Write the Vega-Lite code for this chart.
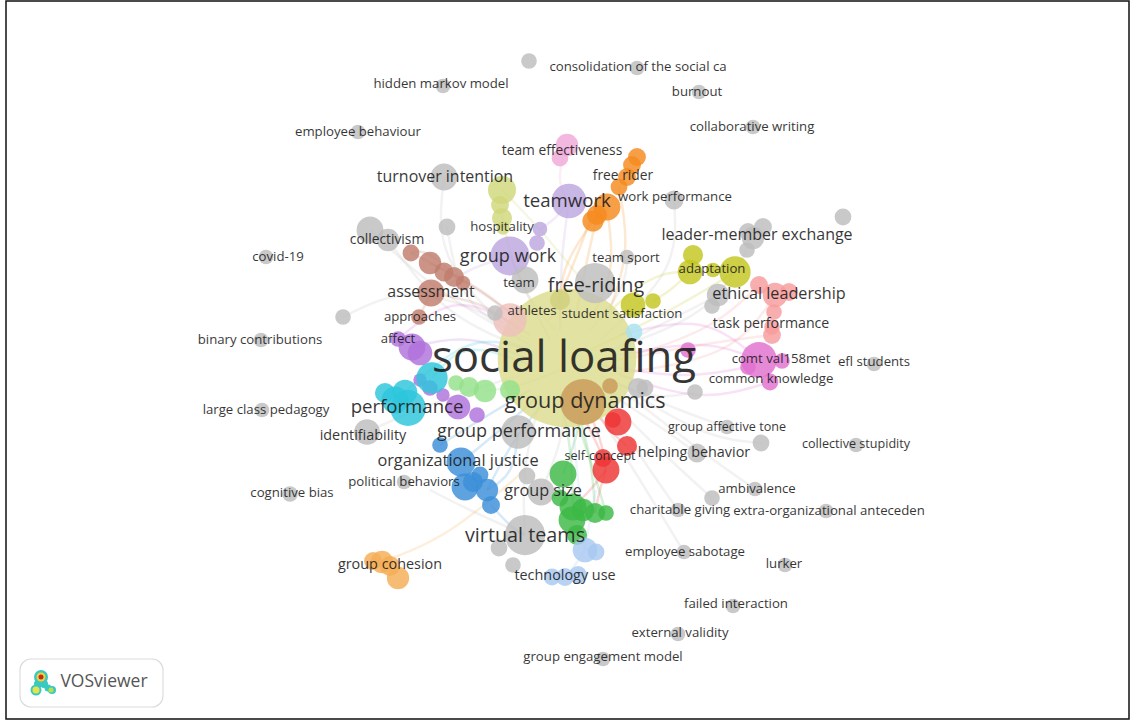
{
"$schema":"https://vega.github.io/schema/vega-lite/v6.json",
"width":1131,"height":720,"padding":0,"autosize":{"type":"none"},"background":"white",
"config":{"view":{"stroke":null}},
"resolve":{"scale":{"x":"shared","y":"shared","color":"independent","size":"independent"}},
"datasets":{
"nodes":[
{"x":567,"y":358,"w":124,"c":"hub"},{"x":510,"y":320,"w":30,"c":"rose"},{"x":560,"y":300,"w":18,"c":"hub2"},{"x":610,"y":386,"w":14,"c":"tan"},
{"x":583,"y":402,"w":41,"c":"tan"},
{"x":567,"y":145,"w":20,"c":"pink"},{"x":560,"y":158,"w":15,"c":"pink"},
{"x":637,"y":157,"w":16,"c":"orange"},{"x":632,"y":165,"w":16,"c":"orange"},{"x":627,"y":177,"w":16,"c":"orange"},{"x":619,"y":187,"w":15,"c":"orange"},{"x":607,"y":207,"w":24,"c":"orange"},{"x":597,"y":215,"w":18,"c":"orange"},{"x":593,"y":221,"w":19,"c":"orange"},
{"x":444,"y":177,"w":24,"c":"gray"},
{"x":502,"y":190,"w":25,"c":"khaki"},{"x":500,"y":205,"w":16,"c":"khaki"},{"x":502,"y":218,"w":18,"c":"khaki"},{"x":503,"y":228,"w":12,"c":"khaki"},
{"x":569,"y":201,"w":31,"c":"lilac"},{"x":540,"y":229,"w":13,"c":"lilac"},{"x":537,"y":243,"w":14,"c":"lilac"},{"x":510,"y":256,"w":35,"c":"lilac"},
{"x":447,"y":227,"w":15,"c":"gray"},{"x":370,"y":230,"w":24,"c":"gray"},{"x":388,"y":240,"w":20,"c":"gray"},
{"x":411,"y":253,"w":15,"c":"brown"},{"x":430,"y":263,"w":20,"c":"brown"},{"x":444,"y":272,"w":17,"c":"brown"},{"x":454,"y":277,"w":18,"c":"brown"},{"x":463,"y":283,"w":13,"c":"brown"},{"x":431,"y":293,"w":24,"c":"brown"},{"x":419,"y":317,"w":14,"c":"brown"},
{"x":525,"y":280,"w":24,"c":"gray"},{"x":595,"y":283,"w":36,"c":"gray"},{"x":627,"y":257,"w":13,"c":"gray"},{"x":674,"y":200,"w":17,"c":"gray"},{"x":343,"y":317,"w":14,"c":"gray"},{"x":495,"y":313,"w":14,"c":"gray"},
{"x":633,"y":305,"w":22,"c":"olive"},{"x":653,"y":301,"w":14,"c":"olive"},{"x":634,"y":332,"w":15,"c":"sky"},
{"x":398,"y":339,"w":14,"c":"purple"},{"x":412,"y":347,"w":24,"c":"purple"},{"x":420,"y":353,"w":22,"c":"purple"},
{"x":420,"y":380,"w":12,"c":"purple"},{"x":430,"y":388,"w":14,"c":"purple"},{"x":443,"y":395,"w":12,"c":"purple"},{"x":458,"y":407,"w":22,"c":"purple"},{"x":477,"y":415,"w":14,"c":"purple"},
{"x":432,"y":378,"w":28,"c":"cyan"},{"x":385,"y":393,"w":18,"c":"cyan"},{"x":405,"y":392,"w":22,"c":"cyan"},{"x":395,"y":400,"w":24,"c":"cyan"},{"x":408,"y":408,"w":32,"c":"cyan"},
{"x":456,"y":383,"w":14,"c":"lgreen"},{"x":469,"y":387,"w":18,"c":"lgreen"},{"x":485,"y":391,"w":20,"c":"lgreen"},{"x":510,"y":390,"w":18,"c":"lgreen"},
{"x":638,"y":388,"w":18,"c":"gray"},{"x":645,"y":388,"w":15,"c":"gray"},{"x":695,"y":392,"w":14,"c":"gray"},{"x":367,"y":432,"w":23,"c":"gray"},{"x":518,"y":432,"w":30,"c":"gray"},{"x":527,"y":476,"w":15,"c":"gray"},{"x":541,"y":492,"w":24,"c":"gray"},{"x":525,"y":535,"w":36,"c":"gray"},{"x":499,"y":548,"w":15,"c":"gray"},{"x":513,"y":565,"w":14,"c":"gray"},{"x":404,"y":482,"w":13,"c":"gray"},
{"x":440,"y":445,"w":14,"c":"blue"},{"x":461,"y":462,"w":26,"c":"blue"},{"x":480,"y":475,"w":15,"c":"blue"},{"x":465,"y":487,"w":24,"c":"blue"},{"x":473,"y":482,"w":18,"c":"blue"},{"x":487,"y":490,"w":20,"c":"blue"},{"x":491,"y":505,"w":16,"c":"blue"},
{"x":618,"y":422,"w":24,"c":"red"},{"x":613,"y":420,"w":14,"c":"red"},{"x":627,"y":446,"w":18,"c":"red"},{"x":603,"y":458,"w":16,"c":"red"},{"x":606,"y":470,"w":24,"c":"red"},
{"x":563,"y":474,"w":24,"c":"green"},{"x":560,"y":498,"w":15,"c":"green"},{"x":573,"y":507,"w":24,"c":"green"},{"x":583,"y":510,"w":20,"c":"green"},{"x":572,"y":520,"w":24,"c":"green"},{"x":595,"y":513,"w":18,"c":"green"},{"x":606,"y":513,"w":14,"c":"green"},{"x":577,"y":535,"w":18,"c":"green"},
{"x":585,"y":550,"w":22,"c":"lblue"},{"x":596,"y":552,"w":15,"c":"lblue"},{"x":552,"y":577,"w":15,"c":"lblue"},{"x":565,"y":577,"w":16,"c":"lblue"},{"x":578,"y":575,"w":16,"c":"lblue"},
{"x":373,"y":561,"w":16,"c":"sand"},{"x":382,"y":562,"w":20,"c":"sand"},{"x":390,"y":566,"w":18,"c":"sand"},{"x":398,"y":578,"w":20,"c":"sand"},
{"x":843,"y":217,"w":15,"c":"gray"},{"x":747,"y":250,"w":14,"c":"gray"},{"x":753,"y":238,"w":20,"c":"gray"},{"x":748,"y":232,"w":16,"c":"gray"},{"x":763,"y":227,"w":16,"c":"gray"},
{"x":693,"y":255,"w":18,"c":"olive"},{"x":690,"y":272,"w":22,"c":"olive"},{"x":713,"y":270,"w":13,"c":"olive"},{"x":735,"y":272,"w":28,"c":"olive"},
{"x":718,"y":295,"w":20,"c":"gray"},{"x":712,"y":306,"w":14,"c":"gray"},
{"x":759,"y":285,"w":16,"c":"salmon"},{"x":775,"y":295,"w":22,"c":"salmon"},{"x":789,"y":292,"w":16,"c":"salmon"},{"x":774,"y":312,"w":14,"c":"salmon"},{"x":772,"y":327,"w":14,"c":"salmon"},{"x":772,"y":335,"w":16,"c":"salmon"},
{"x":759,"y":360,"w":32,"c":"magenta"},{"x":748,"y":367,"w":14,"c":"magenta"},{"x":770,"y":382,"w":15,"c":"magenta"},{"x":782,"y":361,"w":14,"c":"magenta"},{"x":688,"y":350,"w":14,"c":"magenta"},
{"x":727,"y":427,"w":13,"c":"gray"},{"x":529,"y":61,"w":14,"c":"gray"},{"x":637,"y":68,"w":13,"c":"gray"},{"x":443,"y":86,"w":13,"c":"gray"},{"x":699,"y":92,"w":13,"c":"gray"},{"x":753,"y":127,"w":13,"c":"gray"},{"x":358,"y":132,"w":13,"c":"gray"},{"x":266,"y":257,"w":13,"c":"gray"},{"x":261,"y":340,"w":13,"c":"gray"},{"x":874,"y":364,"w":13,"c":"gray"},{"x":262,"y":410,"w":13,"c":"gray"},{"x":856,"y":445,"w":13,"c":"gray"},{"x":761,"y":443,"w":15,"c":"gray"},{"x":697,"y":453,"w":17,"c":"gray"},{"x":290,"y":494,"w":14,"c":"gray"},{"x":755,"y":489,"w":13,"c":"gray"},{"x":712,"y":498,"w":14,"c":"gray"},{"x":678,"y":510,"w":13,"c":"gray"},{"x":826,"y":511,"w":13,"c":"gray"},{"x":684,"y":552,"w":13,"c":"gray"},{"x":785,"y":565,"w":13,"c":"gray"},{"x":733,"y":606,"w":13,"c":"gray"},{"x":678,"y":634,"w":13,"c":"gray"},{"x":603,"y":659,"w":13,"c":"gray"}
],
"links":[
{"id":1,"c":"gray","xs":[444,450,520],"ys":[177,260,340],"o":[0,1,2]},
{"id":2,"c":"gray","xs":[447,470,530],"ys":[227,300,340],"o":[0,1,2]},
{"id":3,"c":"gray","xs":[370,440,530],"ys":[230,290,345],"o":[0,1,2]},
{"id":4,"c":"gray","xs":[388,450,530],"ys":[240,310,350],"o":[0,1,2]},
{"id":5,"c":"gray","xs":[343,420,520],"ys":[317,295,330],"o":[0,1,2]},
{"id":6,"c":"gray","xs":[674,665,600],"ys":[200,270,340],"o":[0,1,2]},
{"id":7,"c":"gray","xs":[747,700,610],"ys":[250,310,350],"o":[0,1,2]},
{"id":8,"c":"gray","xs":[697,650,590],"ys":[453,420,380],"o":[0,1,2]},
{"id":9,"c":"gray","xs":[712,660,600],"ys":[498,450,390],"o":[0,1,2]},
{"id":10,"c":"gray","xs":[678,650,600],"ys":[510,470,395],"o":[0,1,2]},
{"id":11,"c":"gray","xs":[761,700,620],"ys":[443,430,385],"o":[0,1,2]},
{"id":12,"c":"gray","xs":[727,680,610],"ys":[427,410,380],"o":[0,1,2]},
{"id":13,"c":"gray","xs":[525,525,540],"ys":[535,470,400],"o":[0,1,2]},
{"id":14,"c":"gray","xs":[541,560,565],"ys":[492,440,390],"o":[0,1,2]},
{"id":15,"c":"gray","xs":[367,430,520],"ys":[432,405,375],"o":[0,1,2]},
{"id":16,"c":"gray","xs":[694,650,600],"ys":[392,395,375],"o":[0,1,2]},
{"id":17,"c":"gray","xs":[755,700,615],"ys":[489,450,385],"o":[0,1,2]},
{"id":18,"c":"gray","xs":[718,680,620],"ys":[295,315,345],"o":[0,1,2]},
{"id":19,"c":"gray","xs":[627,620,590],"ys":[257,290,330],"o":[0,1,2]},
{"id":20,"c":"gray","xs":[684,640,590],"ys":[552,480,400],"o":[0,1,2]},
{"id":21,"c":"gray","xs":[525,470,430],"ys":[535,510,490],"o":[0,1,2]},
{"id":22,"c":"lilac","xs":[569,562,560],"ys":[201,260,330],"o":[0,1,2]},
{"id":23,"c":"lilac","xs":[510,530,550],"ys":[256,300,340],"o":[0,1,2]},
{"id":24,"c":"lilac","xs":[540,555,569],"ys":[229,218,201],"o":[0,1,2]},
{"id":25,"c":"lilac","xs":[510,470,450],"ys":[256,270,285],"o":[0,1,2]},
{"id":26,"c":"pink","xs":[563,560,567],"ys":[158,180,201],"o":[0,1,2]},
{"id":27,"c":"orange","xs":[593,565,560],"ys":[221,270,320],"o":[0,1,2]},
{"id":28,"c":"orange","xs":[597,585,575],"ys":[215,270,320],"o":[0,1,2]},
{"id":29,"c":"orange","xs":[607,610,590],"ys":[207,270,320],"o":[0,1,2]},
{"id":30,"c":"orange","xs":[619,625,610],"ys":[187,250,310],"o":[0,1,2]},
{"id":31,"c":"orange","xs":[590,575,550],"ys":[221,260,320],"o":[0,1,2]},
{"id":32,"c":"khaki","xs":[502,520,555],"ys":[215,280,330],"o":[0,1,2]},
{"id":33,"c":"khaki","xs":[502,540,590],"ys":[190,230,290],"o":[0,1,2]},
{"id":34,"c":"brown","xs":[411,470,520],"ys":[253,285,320],"o":[0,1,2]},
{"id":35,"c":"brown","xs":[430,480,525],"ys":[263,290,325],"o":[0,1,2]},
{"id":36,"c":"brown","xs":[431,480,520],"ys":[293,305,330],"o":[0,1,2]},
{"id":37,"c":"brown","xs":[419,425,431],"ys":[317,305,293],"o":[0,1,2]},
{"id":38,"c":"brown","xs":[411,430,463],"ys":[253,255,283],"o":[0,1,2]},
{"id":39,"c":"olive","xs":[690,670,653],"ys":[272,290,301],"o":[0,1,2]},
{"id":40,"c":"olive","xs":[735,670,590],"ys":[272,310,350],"o":[0,1,2]},
{"id":41,"c":"olive","xs":[690,650,600],"ys":[272,280,320],"o":[0,1,2]},
{"id":42,"c":"salmon","xs":[759,700,600],"ys":[285,330,365],"o":[0,1,2]},
{"id":43,"c":"salmon","xs":[772,700,620],"ys":[335,345,360],"o":[0,1,2]},
{"id":44,"c":"salmon","xs":[775,720,610],"ys":[295,350,375],"o":[0,1,2]},
{"id":45,"c":"magenta","xs":[759,700,620],"ys":[360,325,335],"o":[0,1,2]},
{"id":46,"c":"magenta","xs":[759,700,620],"ys":[360,345,355],"o":[0,1,2]},
{"id":47,"c":"magenta","xs":[770,700,620],"ys":[382,395,375],"o":[0,1,2]},
{"id":48,"c":"magenta","xs":[748,680,600],"ys":[367,375,365],"o":[0,1,2]},
{"id":49,"c":"magenta","xs":[398,460,530],"ys":[339,305,335],"o":[0,1,2]},
{"id":50,"c":"purple","xs":[412,470,530],"ys":[347,340,360],"o":[0,1,2]},
{"id":51,"c":"cyan","xs":[432,470,530],"ys":[378,350,365],"o":[0,1,2]},
{"id":52,"c":"cyan","xs":[405,470,530],"ys":[392,345,350],"o":[0,1,2]},
{"id":53,"c":"blue","xs":[461,500,540],"ys":[462,430,395],"o":[0,1,2]},
{"id":54,"c":"blue","xs":[487,515,550],"ys":[490,440,395],"o":[0,1,2]},
{"id":55,"c":"blue","xs":[440,480,530],"ys":[445,420,390],"o":[0,1,2]},
{"id":56,"c":"blue","xs":[491,510,525],"ys":[505,525,535],"o":[0,1,2]},
{"id":57,"c":"blue","xs":[487,510,518],"ys":[490,470,432],"o":[0,1,2]},
{"id":58,"c":"red","xs":[606,600,585],"ys":[470,440,402],"o":[0,1,2]},
{"id":59,"c":"red","xs":[603,595,580],"ys":[458,440,410],"o":[0,1,2]},
{"id":60,"c":"red","xs":[627,610,590],"ys":[446,430,405],"o":[0,1,2]},
{"id":61,"c":"red","xs":[606,590,573],"ys":[470,490,507],"o":[0,1,2]},
{"id":62,"c":"red","xs":[606,600,595],"ys":[470,490,513],"o":[0,1,2]},
{"id":63,"c":"green","xs":[563,575,585],"ys":[474,440,400],"o":[0,1,2]},
{"id":64,"c":"green","xs":[573,570,560],"ys":[507,450,395],"o":[0,1,2]},
{"id":65,"c":"green","xs":[595,590,575],"ys":[513,460,400],"o":[0,1,2]},
{"id":66,"c":"green","xs":[606,590,570],"ys":[513,460,400],"o":[0,1,2]},
{"id":67,"c":"lblue","xs":[585,590,596],"ys":[550,520,490],"o":[0,1,2]},
{"id":68,"c":"lblue","xs":[565,575,585],"ys":[577,565,550],"o":[0,1,2]},
{"id":69,"c":"lblue","xs":[585,580,570],"ys":[550,500,400],"o":[0,1,2]},
{"id":70,"c":"sand","xs":[382,450,525],"ys":[562,530,470],"o":[0,1,2]},
{"id":71,"c":"lgreen","xs":[485,520,560],"ys":[391,385,370],"o":[0,1,2]}
],
"labels":[
{"x":564,"y":359,"t":"social loafing","s":36.5},{"x":585,"y":402,"t":"group dynamics","s":18},{"x":407,"y":407,"t":"performance","s":15.5},{"x":519,"y":432,"t":"group performance","s":15},{"x":458,"y":461,"t":"organizational justice","s":13.6},{"x":525,"y":536,"t":"virtual teams","s":16.5},{"x":543,"y":491,"t":"group size","s":13.5},{"x":390,"y":565,"t":"group cohesion","s":12},{"x":565,"y":576,"t":"technology use","s":12},{"x":600,"y":456,"t":"self-concept","s":10.5},{"x":404,"y":482,"t":"political behaviors","s":11},{"x":363,"y":436,"t":"identifiability","s":12},{"x":694,"y":453,"t":"helping behavior","s":12},{"x":727,"y":427,"t":"group affective tone","s":10.5},{"x":856,"y":444,"t":"collective stupidity","s":10.5},{"x":757,"y":489,"t":"ambivalence","s":11},{"x":680,"y":510,"t":"charitable giving","s":11},{"x":829,"y":511,"t":"extra-organizational anteceden","s":11},{"x":685,"y":552,"t":"employee sabotage","s":11},{"x":784,"y":564,"t":"lurker","s":11},{"x":736,"y":604,"t":"failed interaction","s":11},{"x":680,"y":633,"t":"external validity","s":11},{"x":603,"y":657,"t":"group engagement model","s":11},{"x":292,"y":493,"t":"cognitive bias","s":11},{"x":266,"y":410,"t":"large class pedagogy","s":11},{"x":260,"y":340,"t":"binary contributions","s":11},{"x":398,"y":339,"t":"affect","s":11},{"x":420,"y":317,"t":"approaches","s":11},{"x":431,"y":292,"t":"assessment","s":13.3},{"x":387,"y":240,"t":"collectivism","s":11.5},{"x":278,"y":257,"t":"covid-19","s":11},{"x":445,"y":177,"t":"turnover intention","s":13.3},{"x":358,"y":132,"t":"employee behaviour","s":11},{"x":441,"y":84,"t":"hidden markov model","s":11},{"x":638,"y":67,"t":"consolidation of the social ca","s":11},{"x":697,"y":92,"t":"burnout","s":11},{"x":752,"y":127,"t":"collaborative writing","s":11},{"x":562,"y":151,"t":"team effectiveness","s":11.5},{"x":623,"y":176,"t":"free rider","s":11.5},{"x":675,"y":197,"t":"work performance","s":11},{"x":567,"y":201,"t":"teamwork","s":15.5},{"x":502,"y":227,"t":"hospitality","s":11},{"x":508,"y":257,"t":"group work","s":15},{"x":519,"y":283,"t":"team","s":11},{"x":626,"y":258,"t":"team sport","s":11},{"x":596,"y":286,"t":"free-riding","s":16.5},{"x":757,"y":235,"t":"leader-member exchange","s":13.3},{"x":712,"y":269,"t":"adaptation","s":11},{"x":779,"y":294,"t":"ethical leadership","s":13.5},{"x":622,"y":314,"t":"student satisfaction","s":11},{"x":532,"y":311,"t":"athletes","s":11},{"x":771,"y":324,"t":"task performance","s":11.8},{"x":781,"y":359,"t":"comt val158met","s":11},{"x":771,"y":379,"t":"common knowledge","s":11},{"x":874,"y":362,"t":"efl students","s":11}
],
"logo":[
{"x":41,"y":677,"w":14,"c":"#39c9c0"},{"x":38,"y":684,"w":8,"c":"#39c9c0"},{"x":44,"y":684,"w":8,"c":"#39c9c0"},{"x":36,"y":690,"w":11,"c":"#39c9c0"},{"x":48,"y":688,"w":7,"c":"#39c9c0"},{"x":52,"y":690,"w":8,"c":"#39c9c0"},{"x":41,"y":677,"w":9,"c":"#f2d23a"},{"x":41,"y":677,"w":5,"c":"#c92a1e"},{"x":36,"y":690,"w":7,"c":"#e6e24a"},{"x":51,"y":690,"w":5,"c":"#b8e04a"}
]
},
"layer":[
{"data":{"values":[{"a":6,"b":1129,"c":1,"d":719}]},"mark":{"type":"rect","fill":"white","stroke":"#111","strokeWidth":1.5},
 "encoding":{"x":{"field":"a","type":"quantitative","scale":{"domain":[0,1131],"nice":false,"zero":false},"axis":null},"x2":{"field":"b"},"y":{"field":"c","type":"quantitative","scale":{"domain":[0,720],"reverse":true,"nice":false,"zero":false},"axis":null},"y2":{"field":"d"}}},
{"data":{"name":"links"},"transform":[{"flatten":["xs","ys","o"]}],"mark":{"type":"line","interpolate":"natural","strokeWidth":2.5,"opacity":0.2},
 "encoding":{"x":{"field":"xs","type":"quantitative","scale":{"domain":[0,1131],"nice":false,"zero":false},"axis":null},"y":{"field":"ys","type":"quantitative","scale":{"domain":[0,720],"reverse":true,"nice":false,"zero":false},"axis":null},"detail":{"field":"id"},"order":{"field":"o"},"color":{"field":"c","type":"nominal","legend":null,"scale":{"domain":["orange","pink","gray","khaki","lilac","brown","olive","purple","cyan","lgreen","blue","red","green","lblue","sand","salmon","magenta"],"range":["#f58a1f","#f0a8d8","#bdbdbd","#cfd77a","#bca6de","#c07d6c","#c3c61f","#b072dc","#2cc6dc","#94e08a","#3a8fd8","#ee3535","#3cb846","#a8c8f0","#f5ad55","#f79c9c","#e070d0"]}}}},
{"data":{"name":"nodes"},"mark":{"type":"point","filled":true,"shape":"circle","opacity":0.82},
 "encoding":{"x":{"field":"x","type":"quantitative","scale":{"domain":[0,1131],"nice":false,"zero":false},"axis":null},"y":{"field":"y","type":"quantitative","scale":{"domain":[0,720],"reverse":true,"nice":false,"zero":false},"axis":null},
 "size":{"field":"w","type":"quantitative","legend":null,"scale":{"type":"pow","exponent":2,"domain":[0,200],"range":[0,50000]}},
 "color":{"field":"c","type":"nominal","legend":null,"scale":{"domain":["hub","hub2","rose","tan","pink","orange","gray","khaki","lilac","brown","olive","sky","purple","cyan","lgreen","blue","red","green","lblue","sand","salmon","magenta"],"range":["#dcdc8e","#cfcf7c","#eec0bc","#c99a5a","#f0a8d8","#f58a1f","#bdbdbd","#cfd77a","#bca6de","#c07d6c","#c3c61f","#a8e2f0","#b072dc","#2cc6dc","#94e08a","#3a8fd8","#ee3535","#3cb846","#a8c8f0","#f5ad55","#f79c9c","#e070d0"]}}}},
{"data":{"name":"labels"},"mark":{"type":"text","font":"Open Sans","fill":"#1a1a1a","opacity":0.88,"align":"center","baseline":"middle"},
 "encoding":{"x":{"field":"x","type":"quantitative","scale":{"domain":[0,1131],"nice":false,"zero":false},"axis":null},"y":{"field":"y","type":"quantitative","scale":{"domain":[0,720],"reverse":true,"nice":false,"zero":false},"axis":null},"text":{"field":"t"},"size":{"field":"s","type":"quantitative","legend":null,"scale":{"type":"linear","domain":[0,40],"range":[0,48]}}}},
{"data":{"values":[{"a":20,"b":163,"c":659,"d":707}]},"mark":{"type":"rect","fill":"white","stroke":"#dcdcdc","strokeWidth":1.2,"cornerRadius":11},
 "encoding":{"x":{"field":"a","type":"quantitative","scale":{"domain":[0,1131],"nice":false,"zero":false},"axis":null},"x2":{"field":"b"},"y":{"field":"c","type":"quantitative","scale":{"domain":[0,720],"reverse":true,"nice":false,"zero":false},"axis":null},"y2":{"field":"d"}}},
{"data":{"name":"logo"},"mark":{"type":"point","filled":true,"shape":"circle","opacity":1},
 "encoding":{"x":{"field":"x","type":"quantitative","scale":{"domain":[0,1131],"nice":false,"zero":false},"axis":null},"y":{"field":"y","type":"quantitative","scale":{"domain":[0,720],"reverse":true,"nice":false,"zero":false},"axis":null},"size":{"field":"w","type":"quantitative","legend":null,"scale":{"type":"pow","exponent":2,"domain":[0,200],"range":[0,40000]}},"fill":{"field":"c","type":"nominal","scale":null}}},
{"data":{"values":[{"x":104,"y":682,"t":"VOSviewer"}]},"mark":{"type":"text","font":"Open Sans","fontSize":17.5,"fill":"#555","align":"center","baseline":"middle"},
 "encoding":{"x":{"field":"x","type":"quantitative","scale":{"domain":[0,1131],"nice":false,"zero":false},"axis":null},"y":{"field":"y","type":"quantitative","scale":{"domain":[0,720],"reverse":true,"nice":false,"zero":false},"axis":null},"text":{"field":"t"}}}
]
}
